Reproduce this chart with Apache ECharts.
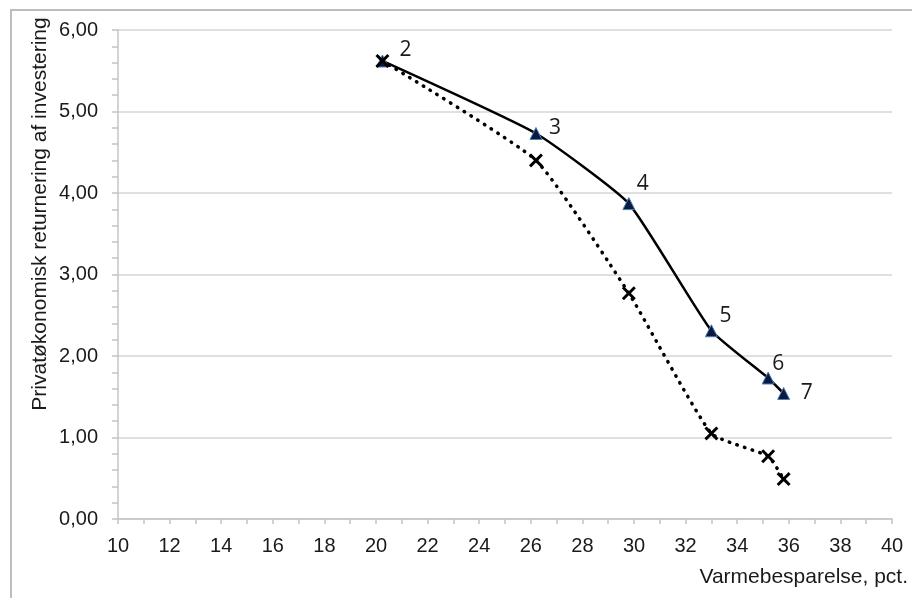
<!DOCTYPE html>
<html><head><meta charset="utf-8">
<script src="https://cdn.jsdelivr.net/npm/echarts@6/dist/echarts.min.js"></script>
<style>html,body{margin:0;padding:0;background:#fff}#c{width:912px;height:598px}</style>
</head><body><div id="c"></div>
<script>
const savings = [20.25, 26.2, 29.8, 33.0, 35.2, 35.8];
const solidValues = [5.62, 4.73, 3.87, 2.31, 1.73, 1.54];
const dottedValues = [5.62, 4.40, 2.77, 1.05, 0.77, 0.49];
const pointLabels = ['2', '3', '4', '5', '6', '7'];
const labelOffsets = [[23,-11],[19,-5],[14,-20],[14,-15],[10,-14],[23,0]];

const font = '"Liberation Sans", Arial, sans-serif';
const chart = echarts.init(document.getElementById('c'), null, {renderer: 'canvas'});
const crossPath = 'path://M0,1.5 L1.5,0 L5,3.5 L8.5,0 L10,1.5 L6.5,5 L10,8.5 L8.5,10 L5,6.5 L1.5,10 L0,8.5 L3.5,5 Z';

chart.setOption({
  animation: false,
  grid: {left: 118, right: 20, top: 30, bottom: 79},
  graphic: [
    {type: 'rect', shape: {x: 11, y: 10, width: 940, height: 640}, style: {fill: 'none', stroke: '#bdbdbd', lineWidth: 2}, z: -1},
    {type: 'text', x: 40, y: 214, rotation: Math.PI / 2,
     style: {text: 'Privatøkonomisk returnering af investering', font: '21px ' + font, fill: '#1a1a1a', textAlign: 'center', textVerticalAlign: 'middle'}},
    {type: 'text', x: 908, y: 577,
     style: {text: 'Varmebesparelse, pct.', font: '21px ' + font, fill: '#1a1a1a', textAlign: 'right', textVerticalAlign: 'middle'}}
  ],
  xAxis: {
    type: 'value', min: 10, max: 40, interval: 2,
    axisLine: {lineStyle: {color: '#c4c4c4', width: 1.5}},
    axisTick: {show: true, length: 5, lineStyle: {color: '#c4c4c4', width: 1.5}},
    minorTick: {show: true, splitNumber: 2, length: 5, lineStyle: {color: '#c4c4c4', width: 1.5}},
    splitLine: {show: false},
    axisLabel: {color: '#1a1a1a', fontSize: 20, fontFamily: font, margin: 17}
  },
  yAxis: {
    type: 'value', min: 0, max: 6, interval: 1,
    axisLine: {show: true, lineStyle: {color: '#c4c4c4', width: 1.5}},
    axisTick: {show: true, length: 6, lineStyle: {color: '#c4c4c4', width: 1.5}},
    minorTick: {show: true, splitNumber: 5, length: 6, lineStyle: {color: '#c4c4c4', width: 1.5}},
    splitLine: {show: true, lineStyle: {color: '#d6d6d6', width: 1.5}},
    axisLabel: {color: '#1a1a1a', fontSize: 20, fontFamily: font, margin: 20,
      formatter: v => v.toFixed(2).replace('.', ',')}
  },
  series: [
    {
      type: 'line', smooth: 0.15, z: 3,
      data: savings.map((x, i) => ({
        value: [x, solidValues[i]],
        label: {show: true, formatter: pointLabels[i], position: 'inside', offset: labelOffsets[i],
                fontSize: 21, fontFamily: '"Open Sans", sans-serif', color: '#1a1a1a'}
      })),
      symbol: 'triangle', symbolSize: 12,
      itemStyle: {color: '#0b1a3a', borderColor: '#4a7ebb', borderWidth: 1},
      lineStyle: {color: '#000', width: 2.5}
    },
    {
      type: 'line', smooth: 0.15, z: 4,
      data: savings.map((x, i) => [x, dottedValues[i]]),
      symbol: crossPath, symbolSize: 14,
      itemStyle: {color: '#000'},
      lineStyle: {color: '#000', width: 3.5, type: [0.5, 7.5], cap: 'round'}
    }
  ]
});
</script></body></html>
